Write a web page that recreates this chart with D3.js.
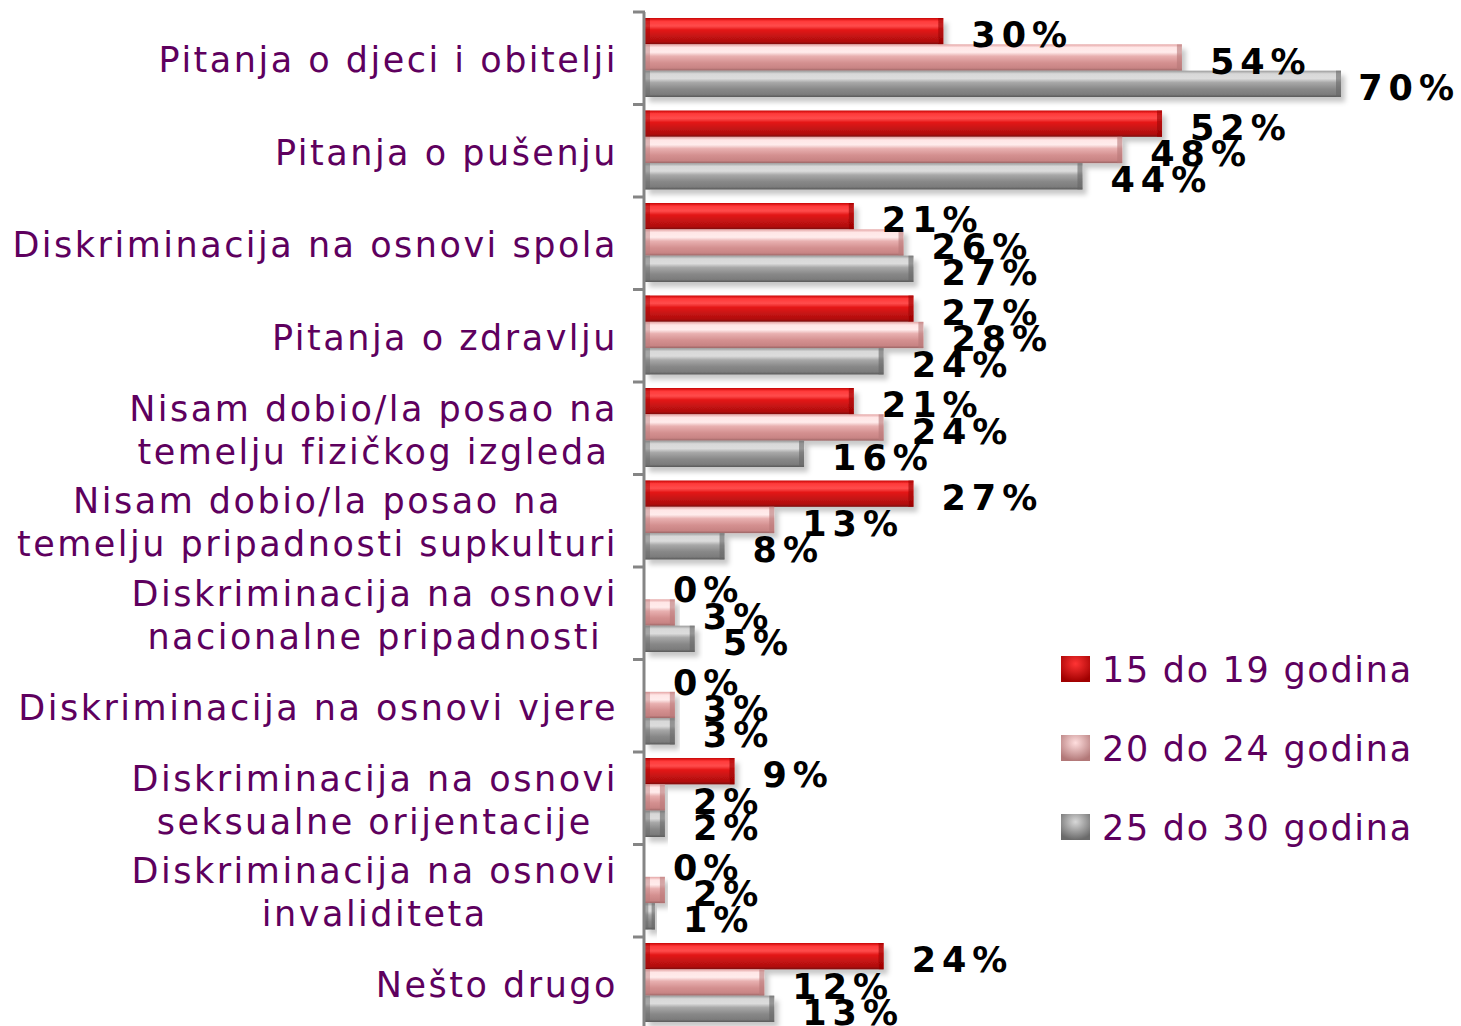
<!DOCTYPE html>
<html>
<head>
<meta charset="utf-8">
<script src="https://cdn.jsdelivr.net/npm/d3@7"></script>
<style>
  body { margin: 0; background: #fff; }
  svg { display: block; }
</style>
</head>
<body>
<svg id="chart" width="1461" height="1026"></svg>
<script>
// ── data ──
const categories = [
  'Pitanja o djeci i obitelji',
  'Pitanja o pušenju',
  'Diskriminacija na osnovi spola',
  'Pitanja o zdravlju',
  'Nisam dobio/la posao na|temelju fizičkog izgleda',
  'Nisam dobio/la posao na|temelju pripadnosti supkulturi',
  'Diskriminacija na osnovi|nacionalne pripadnosti',
  'Diskriminacija na osnovi vjere',
  'Diskriminacija na osnovi|seksualne orijentacije',
  'Diskriminacija na osnovi|invaliditeta',
  'Nešto drugo',
];
const seriesNames = ['15 do 19 godina', '20 do 24 godina', '25 do 30 godina'];
const values1519 = [30, 52, 21, 27, 21, 27, 0, 0, 9, 0, 24];
const values2024 = [54, 48, 26, 28, 24, 13, 3, 3, 2, 2, 12];
const values2530 = [70, 44, 27, 24, 16, 8, 5, 3, 2, 1, 13];
const seriesValues = [values1519, values2024, values2530];

// ── look ──
const W = 1461, H = 1026;
const axisX = 645;
const labelColor = '#5e005e';
const labelFont = "'DejaVu Sans', Verdana, sans-serif";

// vertical colour stops per series: glossy cylinder look
const barStops = [
  [['0%', '#c80000'], ['12%', '#ff3a3a'], ['30%', '#ff4c4c'], ['45%', '#e41818'], ['70%', '#c41212'], ['90%', '#b01010'], ['100%', '#7a0a0a']],
  [['0%', '#e4a4a4'], ['12%', '#ffe6e6'], ['30%', '#ffecec'], ['45%', '#e8b0b0'], ['70%', '#d49090'], ['90%', '#c88484'], ['100%', '#9a6464']],
  [['0%', '#9a9a9a'], ['12%', '#d8d8d8'], ['30%', '#dcdcdc'], ['45%', '#a8a8a8'], ['70%', '#888888'], ['90%', '#7c7c7c'], ['100%', '#585858']],
];
const capColors = ['#9a0000', '#b87878', '#666666'];

const svg = d3.select('#chart');
const defs = svg.append('defs');

barStops.forEach((stops, i) => {
  const g = defs.append('linearGradient')
    .attr('id', 'bar' + i)
    .attr('x1', 0).attr('y1', 0).attr('x2', 0).attr('y2', 1);
  stops.forEach(s => g.append('stop').attr('offset', s[0]).attr('stop-color', s[1]));
});

const shadow = defs.append('filter').attr('id', 'shadow')
  .attr('x', '-5%').attr('y', '-20%').attr('width', '120%').attr('height', '160%');
shadow.append('feDropShadow')
  .attr('dx', 4).attr('dy', 5).attr('stdDeviation', 2.5)
  .attr('flood-color', '#000').attr('flood-opacity', 0.22);

// ── scales ──
const y = d3.scaleBand()
  .domain(d3.range(categories.length))
  .range([12, 12 + 92.5 * categories.length]);

const ySeries = d3.scaleBand()
  .domain(d3.range(seriesNames.length))
  .range([6, 85]);

const x = d3.scaleLinear().domain([0, 70]).range([axisX, 1341]);

// ── bars ──
const groups = svg.append('g').selectAll('g.cat')
  .data(categories)
  .join('g')
  .attr('class', 'cat')
  .attr('transform', (d, i) => `translate(0,${y(i)})`);

seriesNames.forEach((name, s) => {
  const bars = groups.append('g').attr('filter', 'url(#shadow)');
  bars.filter((d, i) => seriesValues[s][i] > 0).each(function (d) {
    const v = seriesValues[s][categories.indexOf(d)];
    const g = d3.select(this);
    const bx = x(0), bw = x(v) - x(0), by = ySeries(s), bh = ySeries.bandwidth();
    g.append('rect')
      .attr('x', bx).attr('y', by)
      .attr('width', bw).attr('height', bh)
      .attr('fill', `url(#bar${s})`);
    // darker end caps
    const cap = Math.min(5, bw / 3);
    g.append('rect').attr('x', bx).attr('y', by).attr('width', cap).attr('height', bh)
      .attr('fill', capColors[s]).attr('opacity', 0.45);
    g.append('rect').attr('x', bx + bw - cap).attr('y', by).attr('width', cap).attr('height', bh)
      .attr('fill', capColors[s]).attr('opacity', 0.6);
  });
});

// ── value labels ──
seriesNames.forEach((name, s) => {
  groups.append('text')
    .attr('class', 'val')
    .attr('font-family', labelFont)
    .attr('font-weight', 'bold')
    .attr('font-size', 35)
    .attr('letter-spacing', 6)
    .attr('fill', '#000')
    .attr('x', (d, i) => x(seriesValues[s][i]) + 28)
    .attr('y', ySeries(s) + ySeries.bandwidth() / 2 + 16)
    .text((d, i) => seriesValues[s][i] + '%')
    .each(function () {
      // keep the label inside the chart, like the plot area does
      const t = d3.select(this);
      const w = this.getComputedTextLength();
      const xx = +t.attr('x');
      if (xx + w > W - 1) t.attr('x', W - 1 - w);
    });
});

// ── axis ──
const axis = svg.append('g');
axis.append('line')
  .attr('x1', axisX - 1).attr('x2', axisX - 1)
  .attr('y1', y(0)).attr('y2', H + 10)
  .attr('stroke', '#858585').attr('stroke-width', 3);
axis.selectAll('line.tick')
  .data(d3.range(categories.length + 1))
  .join('line')
  .attr('class', 'tick')
  .attr('x1', axisX - 12).attr('x2', axisX)
  .attr('y1', i => y(0) + i * y.bandwidth())
  .attr('y2', i => y(0) + i * y.bandwidth())
  .attr('stroke', '#858585').attr('stroke-width', 3);

// ── category labels ──
const labelRight = 618;
groups.each(function (d) {
  const lines = d.split('|');
  const g = d3.select(this);
  const cy = y.bandwidth() / 2;
  const lh = 43;
  const t = g.append('text')
    .attr('font-family', labelFont)
    .attr('font-size', 35)
    .attr('letter-spacing', 2.5)
    .attr('fill', labelColor);
  const spans = lines.map((ln, k) =>
    t.append('tspan')
      .attr('y', cy + 14 + (k - (lines.length - 1) / 2) * lh)
      .text(ln));
  if (lines.length === 1) {
    t.attr('text-anchor', 'end');
    spans[0].attr('x', labelRight);
  } else {
    const maxW = d3.max(spans, sp => sp.node().getComputedTextLength());
    t.attr('text-anchor', 'middle');
    spans.forEach(sp => sp.attr('x', labelRight - maxW / 2));
  }
});

// ── legend ──
const legend = svg.append('g').attr('transform', 'translate(1061,669)');
const legendGrad = [
  ['#ff3434', '#a00000'],
  ['#ffdede', '#b27878'],
  ['#d8d8d8', '#6a6a6a'],
];
legendGrad.forEach((c, i) => {
  const g = defs.append('radialGradient').attr('id', 'leg' + i)
    .attr('cx', '50%').attr('cy', '30%').attr('r', '70%');
  g.append('stop').attr('offset', '0%').attr('stop-color', c[0]);
  g.append('stop').attr('offset', '100%').attr('stop-color', c[1]);
});
const items = legend.selectAll('g.item')
  .data(seriesNames)
  .join('g')
  .attr('class', 'item')
  .attr('transform', (d, i) => `translate(0,${i * 79})`);
items.append('rect')
  .attr('x', 0).attr('y', -13).attr('width', 29).attr('height', 26)
  .attr('fill', (d, i) => `url(#leg${i})`);
items.append('text')
  .attr('x', 41).attr('y', 13)
  .attr('font-family', labelFont)
  .attr('font-size', 35)
  .attr('letter-spacing', 1.7)
  .attr('fill', labelColor)
  .text(d => d);
</script>
</body>
</html>
